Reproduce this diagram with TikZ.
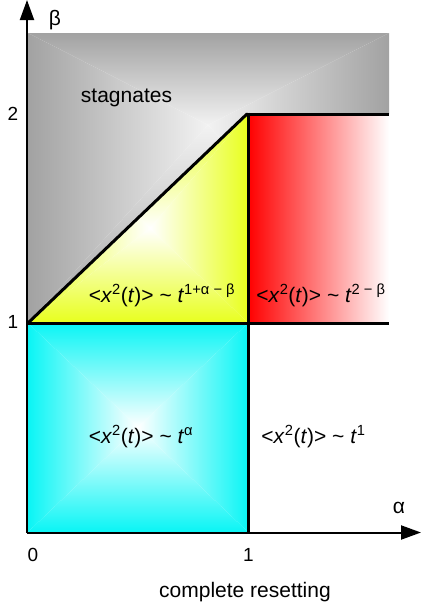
\documentclass[tikz,border=0pt]{standalone}
\usepackage{fontspec}
\setmainfont{Liberation Sans}
\usetikzlibrary{arrows.meta}
\definecolor{yel}{RGB}{232,255,30}
\definecolor{cyn}{RGB}{10,245,245}
\definecolor{gry}{RGB}{162,162,162}
\definecolor{gryin}{RGB}{242,242,242}
\newcommand\sqgrad[8]{%
  \shade[top color=#7, bottom color=#8] (#1,#2) -- (#3,#2) -- (#5,#6) -- cycle;
  \shade[top color=#8, bottom color=#7] (#1,#4) -- (#3,#4) -- (#5,#6) -- cycle;
  \shade[left color=#7, right color=#8] (#1,#2) -- (#1,#4) -- (#5,#6) -- cycle;
  \shade[left color=#8, right color=#7] (#3,#2) -- (#3,#4) -- (#5,#6) -- cycle;
}
\newcommand\msd{<\textit{x}\textsuperscript{2}(\textit{t})> \textasciitilde\ \textit{t}}
\tikzset{
  bound/.style={line width=3pt, line cap=butt},
  axisline/.style={line width=2pt, -{Triangle[length=20pt,width=14pt]}},
  lbl/.style={font=\fontsize{21}{25}\selectfont, inner sep=0pt, anchor=base},
  num/.style={font=\fontsize{19}{23}\selectfont, inner sep=0pt, anchor=base},
}
\begin{document}
\begin{tikzpicture}[x=1pt, y=-1pt]
\useasboundingbox (0,0) rectangle (421,611);
% gray region
\begin{scope}
  \clip (28,33) -- (389,33) -- (389,114) -- (247,114) -- (28,323) -- cycle;
  \sqgrad{28}{33}{389}{323}{208}{125}{gry}{gryin}
\end{scope}
% yellow triangle
\begin{scope}
  \clip (28,323) -- (247,114) -- (248,114) -- (248,323) -- cycle;
  \sqgrad{28}{114}{248}{323}{150}{228}{yel}{white}
\end{scope}
% red region
\shade[left color=red, right color=white] (248,114) rectangle (389,323);
% cyan region
\sqgrad{28}{323}{248}{532}{138}{427}{cyn}{white}
% coordinates
\coordinate (o) at (27,532.5);
\coordinate (b1) at (27,323);
\coordinate (c2) at (247,114);
\coordinate (r2) at (389,114);
\coordinate (r1) at (389,323);
\coordinate (a1) at (248.5,532.5);
\coordinate (a1top) at (248.5,112.5);
\coordinate (xend) at (421,532.5);
\coordinate (yend) at (27,0);
% boundaries
\draw[bound] (b1) -- (r1);
\draw[bound] (a1top) -- (a1);
\draw[bound] (247,114) -- (r2);
\draw[bound, line cap=round] (28,323) -- (c2);
% axes
\draw[axisline] (o) -- (xend);
\draw[axisline] (o) -- (yend);
% labels
\node[lbl] (stag) at (126.5,102) {stagnates};
\node[lbl] (f1) at (162,302) {\msd\textsuperscript{1+α − β}};
\node[lbl] (f2) at (321,302) {\msd\textsuperscript{2 − β}};
\node[lbl] (f3) at (141,443) {\msd\textsuperscript{α}};
\node[lbl] (f4) at (313.5,443) {\msd\textsuperscript{1}};
\node[lbl, anchor=center] (beta) at (55,20) {β};
\node[lbl, anchor=center] (alpha) at (399,508) {α};
\node[num] (n2) at (13,120) {2};
\node[num] (n1) at (13,328.5) {1};
\node[num] (n0) at (33,561.5) {0};
\node[num] (na1) at (248.5,561.5) {1};
\node[lbl] (cr) at (245,597) {complete resetting};
\end{tikzpicture}
\end{document}
